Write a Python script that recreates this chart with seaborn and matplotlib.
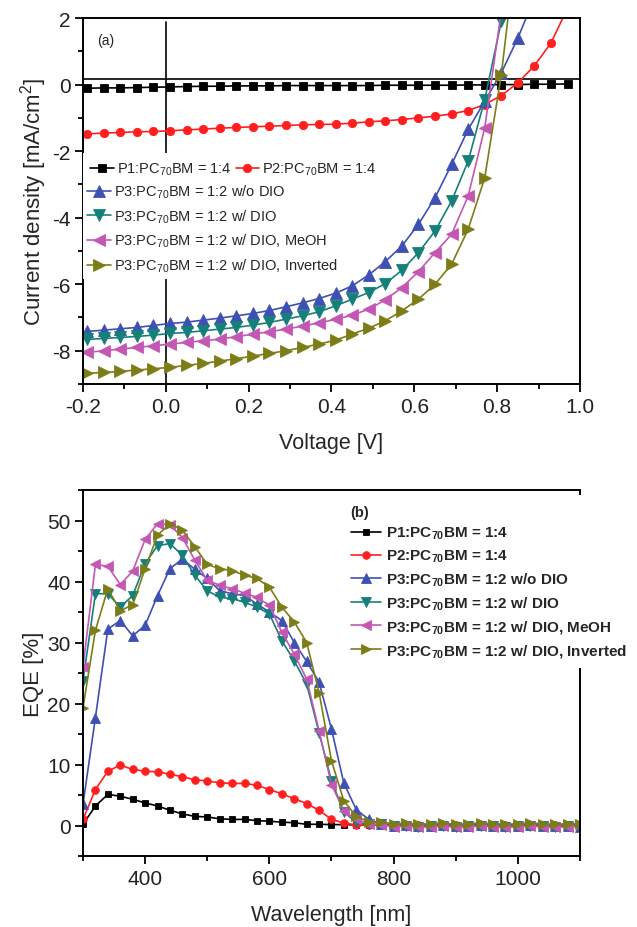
import numpy as np
import pandas as pd
import matplotlib
matplotlib.use('Agg')
import matplotlib.pyplot as plt
from matplotlib.ticker import MultipleLocator, FormatStrFormatter
import seaborn as sns

sns.set_style('ticks')
plt.rcParams['font.family'] = ['Liberation Sans', 'DejaVu Sans']
plt.rcParams['mathtext.default'] = 'regular'
plt.rcParams['axes.unicode_minus'] = False

labels = ['P1:PC$_{70}$BM = 1:4', 'P2:PC$_{70}$BM = 1:4',
          'P3:PC$_{70}$BM = 1:2 w/o DIO', 'P3:PC$_{70}$BM = 1:2 w/ DIO',
          'P3:PC$_{70}$BM = 1:2 w/ DIO, MeOH', 'P3:PC$_{70}$BM = 1:2 w/ DIO, Inverted']
colors = ['#000000', '#ff1f1f', '#3e50b4', '#15807a', '#c457b4', '#7d7d18']
markers = ['s', 'o', '^', 'v', '<', '>']

# (a) J-V curves
voltage = [-0.19, -0.15, -0.11, -0.07, -0.03, 0.01, 0.05, 0.09, 0.13, 0.17,
           0.21, 0.25, 0.29, 0.33, 0.37, 0.41, 0.45, 0.49, 0.53, 0.57,
           0.61, 0.65, 0.69, 0.73, 0.77, 0.81, 0.85, 0.89, 0.93, 0.97]
jv_p1 = [-0.11, -0.10, -0.10, -0.09, -0.08, -0.07, -0.06, -0.05, -0.05, -0.04,
         -0.04, -0.04, -0.03, -0.03, -0.03, -0.03, -0.03, -0.03, -0.02, -0.02,
         -0.02, -0.02, -0.02, -0.01, -0.01, 0.0, 0.0, 0.01, 0.01, 0.02]
jv_p2 = [-1.48, -1.46, -1.44, -1.42, -1.41, -1.39, -1.36, -1.34, -1.31, -1.29,
         -1.27, -1.25, -1.23, -1.21, -1.20, -1.19, -1.16, -1.12, -1.09, -1.05,
         -1.00, -0.95, -0.88, -0.78, -0.60, -0.33, 0.05, 0.57, 1.25, 2.3]
jv_p3_nodio = [-7.42, -7.38, -7.34, -7.30, -7.24, -7.18, -7.14, -7.08, -7.02, -6.95,
               -6.88, -6.79, -6.68, -6.56, -6.43, -6.27, -6.05, -5.72, -5.32, -4.85,
               -4.20, -3.40, -2.40, -1.35, -0.50, 0.35, 1.40, 2.6]
jv_p3_dio = [-7.66, -7.63, -7.60, -7.57, -7.53, -7.48, -7.45, -7.40, -7.35, -7.30,
             -7.23, -7.15, -7.05, -6.95, -6.83, -6.65, -6.45, -6.25, -5.98, -5.58,
             -5.05, -4.40, -3.50, -2.30, -0.45, 1.9, 4.8]
jv_p3_meoh = [-8.05, -8.00, -7.95, -7.90, -7.85, -7.80, -7.75, -7.70, -7.65, -7.58,
              -7.50, -7.43, -7.35, -7.26, -7.16, -7.06, -6.93, -6.75, -6.47, -6.10,
              -5.62, -5.05, -4.50, -3.35, -1.30, 2.2, 6.0]
jv_p3_inv = [-8.68, -8.65, -8.62, -8.58, -8.54, -8.50, -8.44, -8.38, -8.31, -8.24,
             -8.16, -8.08, -8.00, -7.90, -7.80, -7.68, -7.50, -7.32, -7.10, -6.80,
             -6.45, -6.00, -5.40, -4.35, -2.80, 0.3, 4.5]

# (b) EQE spectra
wavelength = [300, 320, 340, 360, 380, 400, 420, 440, 460, 480, 500, 520, 540, 560,
              580, 600, 620, 640, 660, 680, 700, 720, 740, 760, 780, 800, 820, 840,
              860, 880, 900, 920, 940, 960, 980, 1000, 1020, 1040, 1060, 1080, 1100]
eqe_p1 = [0.2, 3.2, 5.1, 4.8, 4.3, 3.7, 3.2, 2.5, 1.9, 1.5, 1.4, 1.1, 1.0, 1.0,
          0.8, 0.7, 0.55, 0.45, 0.2, 0.2, 0.15, 0.15, 0.1, 0.1, 0.1, 0.1, 0.1, 0.1,
          0.1, 0.1, 0.1, 0.1, 0.1, 0.1, 0.1, 0.1, 0.1, 0.1, 0.1, 0.1, 0.1]
eqe_p2 = [1.0, 5.9, 8.9, 9.9, 9.2, 8.9, 8.8, 8.4, 8.0, 7.5, 7.3, 7.0, 6.9, 6.9,
          6.6, 5.9, 5.2, 4.4, 3.6, 2.5, 1.0, 0.4, 0.1, 0.1, 0.1, 0.1, 0.1, 0.1,
          0.1, 0.1, 0.1, 0.1, 0.1, 0.1, 0.1, 0.1, 0.1, 0.1, 0.1, 0.1, 0.1]
eqe_p3_nodio = [3.5, 17.7, 32.2, 33.6, 31.1, 32.8, 37.7, 42.1, 43.7, 42.0, 40.5, 38.5, 38.0, 37.7,
                36.3, 35.0, 33.6, 30.0, 26.9, 23.5, 15.8, 6.9, 2.6, 1.0, 0.3, 0.0, 0.1, -0.1,
                0.0, 0.1, -0.1, 0.0, 0.1, 0.0, -0.1, 0.0, 0.1, 0.0, -0.1, 0.0, -0.2]
eqe_p3_dio = [23.7, 38.0, 38.0, 35.8, 37.7, 42.9, 45.9, 46.2, 44.3, 41.0, 38.5, 37.4, 37.2, 36.6,
              35.8, 34.7, 30.3, 27.0, 23.2, 15.2, 7.3, 2.2, 0.5, 0.2, 0.2, -0.1, 0.0, -0.2,
              -0.1, 0.0, -0.2, -0.1, 0.0, -0.1, -0.2, -0.1, 0.0, -0.1, -0.2, -0.1, -0.1]
eqe_p3_meoh = [26.0, 42.8, 42.5, 39.5, 41.7, 46.9, 49.5, 49.3, 47.2, 43.5, 40.2, 39.4, 38.8, 38.1,
               37.4, 36.1, 31.7, 28.1, 24.0, 15.5, 6.7, 2.4, 1.0, 0.3, 0.1, -0.2, -0.1, -0.3,
               -0.2, -0.1, -0.3, -0.2, -0.1, -0.2, -0.3, -0.2, -0.1, -0.2, -0.3, -0.2, -0.2]
eqe_p3_inv = [19.3, 32.0, 38.8, 35.2, 36.2, 42.1, 47.6, 49.5, 48.4, 45.7, 42.8, 42.1, 41.8, 41.0,
              40.5, 39.1, 35.8, 33.4, 30.0, 21.8, 10.6, 4.0, 1.5, 0.6, 0.5, 0.3, 0.4, 0.2,
              0.3, 0.4, 0.2, 0.3, 0.4, 0.3, 0.2, 0.3, 0.4, 0.3, 0.2, 0.3, 0.3]

jv_sets = [jv_p1, jv_p2, jv_p3_nodio, jv_p3_dio, jv_p3_meoh, jv_p3_inv]
eqe_sets = [eqe_p1, eqe_p2, eqe_p3_nodio, eqe_p3_dio, eqe_p3_meoh, eqe_p3_inv]

fig = plt.figure(figsize=(6.37, 9.28), dpi=100)
ax1 = fig.add_axes([0.1303, 0.5851, 0.7802, 0.3944])
ax2 = fig.add_axes([0.1303, 0.0765, 0.7802, 0.3944])


def draw_series(ax, x, sets, sizes):
    handles = []
    for y, c, m, ms in zip(sets, colors, markers, sizes):
        sns.lineplot(x=x[:len(y)], y=y, ax=ax, color=c, marker=m, markersize=ms,
                     markeredgecolor=c, markeredgewidth=0.6, linewidth=1.2,
                     legend=False, sort=False, errorbar=None)
        handles.append(ax.lines[-1])
    return handles


ax1.axhline(0.17, color='black', lw=1.2, zorder=1)
ax1.axvline(0.0, ymax=0.99, color='black', lw=1.2, zorder=1)
h1 = draw_series(ax1, voltage, jv_sets, [5.5, 6, 8.5, 8.5, 8.5, 8.5])
h2 = draw_series(ax2, wavelength, eqe_sets, [5, 5.5, 7.5, 7.5, 7.5, 7.5])

ax1.set_xlim(-0.2, 1.0)
ax1.set_ylim(-9, 2)
ax1.xaxis.set_major_locator(MultipleLocator(0.2))
ax1.xaxis.set_minor_locator(MultipleLocator(0.1))
ax1.xaxis.set_major_formatter(FormatStrFormatter('%.1f'))
ax1.yaxis.set_major_locator(MultipleLocator(2))
ax1.yaxis.set_minor_locator(MultipleLocator(1))
ax1.set_xlabel('Voltage [V]', fontsize=15.5, labelpad=12)
ax1.set_ylabel('Current density [mA/cm$^2$]', fontsize=16, labelpad=2)
ax1.text(0.028, 0.94, '(a)', transform=ax1.transAxes, fontsize=10, va='center')

ax2.set_xlim(300, 1100)
ax2.set_ylim(-5, 55)
ax2.xaxis.set_major_locator(MultipleLocator(200))
ax2.xaxis.set_minor_locator(MultipleLocator(100))
ax2.set_yticks([0, 10, 20, 30, 40, 50])
ax2.yaxis.set_minor_locator(MultipleLocator(5))
ax2.set_xlabel('Wavelength [nm]', fontsize=15.5, labelpad=12)
ax2.set_ylabel('EQE [%]', fontsize=16, labelpad=2)

for ax in (ax1, ax2):
    for s in ax.spines.values():
        s.set_visible(True)
        s.set_linewidth(1.4)
        s.set_color('black')
    ax.tick_params(which='both', direction='out', top=False, right=False,
                   width=1.3, color='black', labelcolor='#222222')
    ax.tick_params(which='major', length=6, labelsize=15, pad=3)
    ax.tick_params(which='minor', length=3.5)

leg_kw = dict(loc='upper left', frameon=True, framealpha=1, facecolor='white',
              edgecolor='none', fancybox=False, borderaxespad=0)
leg1 = ax1.legend(h1[:2], labels[:2], ncol=2, bbox_to_anchor=(0.0, 0.63),
                  fontsize=10.5, handlelength=1.6, handletextpad=0.2,
                  columnspacing=0.3, borderpad=0.5, **leg_kw)
ax1.add_artist(leg1)
ax1.legend(h1[2:], labels[2:], bbox_to_anchor=(0.0, 0.562), fontsize=10.5,
           handlelength=1.6, handletextpad=0.2, labelspacing=0.5,
           borderpad=0.3, **leg_kw)

leg3 = ax2.legend(h2, labels, bbox_to_anchor=(0.52, 0.985), title='(b)',
                  alignment='left', prop={'weight': 'bold', 'size': 11},
                  title_fontproperties={'weight': 'bold', 'size': 10.5},
                  handlelength=2.0, handletextpad=0.3, labelspacing=0.42,
                  borderpad=0.6, **leg_kw)

fig.savefig('out.png', dpi=100)
